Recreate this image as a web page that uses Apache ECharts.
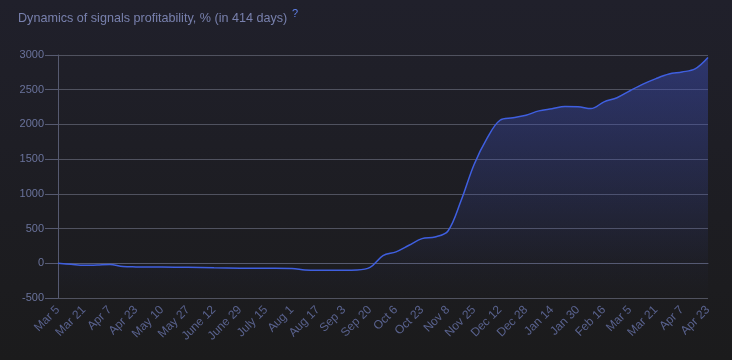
<!DOCTYPE html>
<html>
<head>
<meta charset="utf-8">
<script src="https://cdn.jsdelivr.net/npm/echarts@6/dist/echarts.min.js"></script>
<style>
html,body{margin:0;padding:0;background:#1c1c1e;}
#c{width:732px;height:360px;}
</style>
</head>
<body>
<div id="c"></div>
<script>
// Tick labels on the x axis (one every ~16.5 days)
var tickLabels = ["Mar 5","Mar 21","Apr 7","Apr 23","May 10","May 27","June 12","June 29","July 15","Aug 1","Aug 17","Sep 3","Sep 20","Oct 6","Oct 23","Nov 8","Nov 25","Dec 12","Dec 28","Jan 14","Jan 30","Feb 16","Mar 5","Mar 21","Apr 7","Apr 23"];
// Positions of the samples, in tick-label units
var xPos = [0,0.5,1,1.5,2,2.5,3,4,5,6,7,8,9,9.5,10,11,11.5,12,12.5,13,13.5,14,14.5,15,15.5,16,16.5,17,17.5,18,18.5,19,19.5,20,20.5,21,21.5,22,22.5,23,23.5,24,24.5,25];
// Profitability, %
var profit = [0,-15,-30,-25,-18,-48,-52,-55,-58,-66,-70,-72,-74,-96,-100,-100,-97,-60,110,165,260,355,378,465,900,1420,1800,2060,2095,2132,2195,2225,2258,2255,2228,2325,2385,2485,2580,2660,2725,2755,2800,2965];
var yTicks = {min:-500, max:3000, interval:500};

var points = xPos.map(function(x,i){return [x, profit[i]];});
var FONT = 'Liberation Sans, Arial, sans-serif';

var chart = echarts.init(document.getElementById('c'));
chart.setOption({
  animation:false,
  backgroundColor:{type:'linear',x:0,y:0,x2:0,y2:1,colorStops:[{offset:0,color:'#20202b'},{offset:1,color:'#1b1b1c'}]},
  title:[{
    text:'Dynamics of signals profitability, % (in 414 days)',
    left:18, top:12, padding:0,
    textStyle:{color:'#7880ad',fontSize:12.6,fontWeight:'normal',fontFamily:FONT}
  },{
    text:'?',
    left:292, top:8, padding:0,
    textStyle:{color:'#6080ea',fontSize:11,fontWeight:'normal',fontFamily:FONT}
  }],
  grid:{left:58,right:24,top:55,bottom:62,containLabel:false},
  xAxis:{
    type:'value', min:0, max:tickLabels.length-1, interval:1,
    axisLine:{show:true,lineStyle:{color:'#565a70',width:1}},
    axisTick:{show:false},
    splitLine:{show:false},
    axisLabel:{
      rotate:45, margin:10,
      color:'#59628e', fontSize:12, fontFamily:FONT,
      formatter:function(v){return tickLabels[Math.round(v)];}
    }
  },
  yAxis:{
    type:'value', min:yTicks.min, max:yTicks.max, interval:yTicks.interval,
    axisLine:{show:true,lineStyle:{color:'#565a70'}},
    axisTick:{show:true,length:13,lineStyle:{color:'#565a70'}},
    axisLabel:{color:'#6a739c',fontSize:11,margin:14,fontFamily:FONT,formatter:function(v){return String(v);}},
    splitLine:{show:true,lineStyle:{color:'#50525f',width:1}}
  },
  series:[{
    type:'line',
    data:points,
    smooth:0.35,
    showSymbol:false,
    lineStyle:{color:'#3f5fe0',width:1.5},
    areaStyle:{
      origin:'start',
      color:{type:'linear',x:0,y:0,x2:0,y2:1,colorStops:[
        {offset:0,color:'rgba(62,80,190,0.66)'},
        {offset:0.85,color:'rgba(62,80,190,0.06)'},
        {offset:1,color:'rgba(62,80,190,0.0)'}
      ]}
    }
  }]
});
</script>
</body>
</html>
